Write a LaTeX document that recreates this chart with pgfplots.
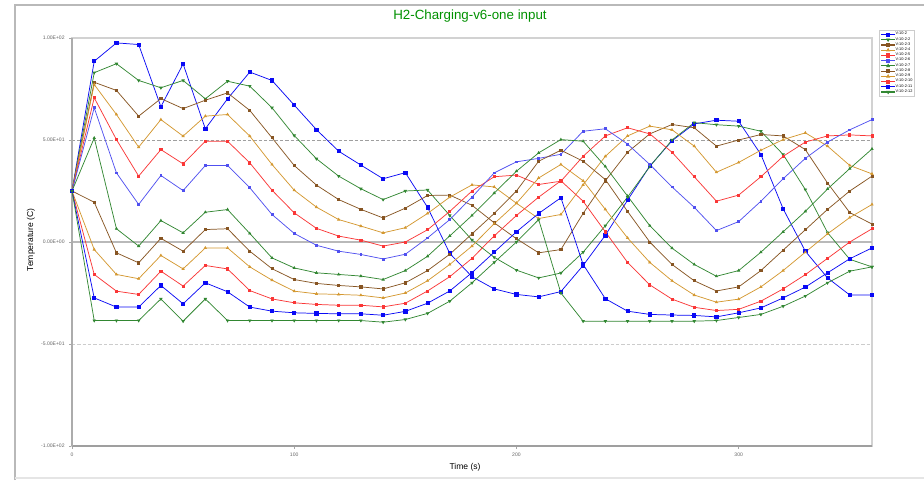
\documentclass[border=0pt]{standalone}
\usepackage{pgfplots}
\pgfplotsset{compat=1.18}
\usepackage{pgfplotstable}
\usepackage{fontspec}
\setmainfont{Liberation Sans}
\definecolor{cblue}{RGB}{10,10,245}
\definecolor{clblue}{RGB}{80,80,240}
\definecolor{cgreen}{RGB}{50,135,50}
\definecolor{cbrown}{RGB}{135,85,35}
\definecolor{cgold}{RGB}{212,152,48}
\definecolor{cred}{RGB}{250,55,55}
\definecolor{ctitle}{RGB}{0,145,0}

\pgfplotstableread{
t s1 s2 s3 s4 s5 s6 s7 s8 s9 s10 s11 s12
0 25 25 25 25 25 25 25 25 25 25 25 25
10 88.6 83 78.3 77.2 70.7 65.8 51 19.5 -3.7 -15.9 -27.4 -38.5
20 97.6 87.4 74.3 62.5 50.2 33.9 6.5 -5.3 -15.9 -24.1 -31.9 -38.5
30 96.8 79.2 61.7 46.5 32.3 18.4 -2 -10.2 -18 -25.7 -31.9 -38.5
40 66.3 75.6 70.3 60 45.3 32.6 10.5 1.8 -6.6 -14.3 -21.3 -27.9
50 87.3 79.2 65.4 51.9 38.3 25.2 4.5 -4.5 -13.2 -21.6 -30.3 -38.8
60 55.5 70.2 69.5 61.7 49.4 37.5 14.6 6.1 -2.9 -11.5 -20 -27.9
70 70.2 78.8 73.1 62.5 49.4 37.5 15.9 6.5 -2.9 -13.2 -24.4 -38.5
80 83.3 76.4 64.5 51.9 38.8 26.6 4.2 -4.5 -12.2 -23.8 -31.9 -38.5
90 79.2 65.8 51.1 38 25.4 13.5 -7.8 -13.1 -18.7 -27.9 -33.9 -38.5
100 67.1 52.2 37.5 25.4 14.3 4.2 -12.7 -18.4 -24.1 -29.8 -34.7 -38.5
110 55.1 40.8 27.9 17.1 6.7 -1.6 -15.1 -20.3 -25.4 -30.6 -35 -38.5
120 44.5 32.3 20.8 11 2.9 -4.5 -15.9 -21.3 -25.7 -31 -35.2 -38.5
130 37.7 26.1 16 7.8 0.9 -6.1 -16.7 -22 -26.1 -31 -35.2 -38.5
140 31 20.8 11.8 4.5 -2 -8.3 -18.4 -23 -27.4 -31.8 -35.9 -39.3
150 34 25 16.6 7 0 -6 -14 -20 -25 -30 -34 -38
160 17 25.5 22.8 14 6 2 -7 -14 -19 -24 -30 -35
170 -5.6 13 23 22 15 11 3 -6 -11 -17 -24 -29
180 -17 1 18 28 25 22 13 4 -2 -8 -15 -20
190 -23 -7.5 9.4 27 32 33.9 24 14 9 3 -5 -10
200 -25.7 -13.8 1.6 19 32.8 39.3 34.7 25 19 13 5 0
210 -26.9 -17.6 -5.3 11.5 28.2 41 43.7 39.6 31.4 22 14 11
220 -24.3 -15.2 -3.7 13.5 29.8 43 50.2 45 38 30 21.7 -25
230 -11.5 -5 14 28 42 54.3 49.4 39.6 30 20 -11 -38.8
240 3.3 8 30 42 52 55.5 37 30.6 16 5 -27.8 -38.8
250 20.5 22 44 52 56 48 22.5 15 2 -10 -33.9 -38.8
260 37.2 37 53 56.8 53 38 8 0 -10 -21 -35.5 -38.8
270 49.6 50 57.6 55 44 27 -3 -11 -19 -28 -35.8 -38.8
280 57.9 58.5 56 47 32 17 -11 -19 -26 -32 -36 -38.8
290 59.7 57.5 47 34.2 20 5.6 -16.8 -24 -29.5 -33.6 -36.7 -38.5
300 59.2 56.8 50 39 23 10 -14 -22 -28 -33 -34.7 -37
310 42.9 54.3 52.7 45 32 20 -5 -14 -22 -29 -32.3 -35.5
320 16.3 42.9 52 50.2 42 31 5 -4 -14 -23 -27.4 -31.5
330 -4.5 25.7 45.3 53.5 49 41 15 6 -5 -16 -22.1 -26.5
340 -17.6 4.6 28.9 47 52 49 26 16 4 -8 -15.1 -20
350 -26 -8.5 14.4 37.5 52.5 55 36 25 12 0 -8.2 -14.3
360 -26 -12.2 8.8 33.4 52 60 45.6 32.3 18.4 6.5 -2.9 -12.2
}\data

\begin{document}
\begin{tikzpicture}[x=0.75pt,y=0.75pt]
\useasboundingbox (0,0) rectangle (924,480);
\fill[white] (0,0) rectangle (924,480);
\draw[gray!55, line width=1.5pt] (15,0) -- (15,475) -- (924,475);
\draw[gray!20, line width=0.8pt] (15,2) -- (924,2);
\node[text=ctitle, font=\fontsize{10}{12}\selectfont] at (470,464) {H2-Charging-v6-one input};
\node[font=\fontsize{6.4}{7.5}\selectfont] at (465,13) {Time (s)};
\node[font=\fontsize{6.4}{7.5}\selectfont, rotate=90] at (31,240) {Temperature (C)};
\begin{axis}[
  at={(54pt,25.5pt)}, anchor=south west, scale only axis,
  width=600pt, height=306pt,
  xmin=0, xmax=360, ymin=-100, ymax=100,
  xtick={0,100,200,300},
  ytick={-100,-50,0,50,100},
  yticklabels={-1.00E+02,-5.00E+01,0.00E+00,5.00E+01,1.00E+02},
  /pgf/number format/assume math mode=true,
  tick label style={font=\fontsize{3.8}{4.5}\selectfont, text=gray!80!black},
  tick align=outside, tick style={gray!70, line width=0.5pt},
  major tick length=2pt,
  xtick pos=bottom, ytick pos=left,
  axis line style={gray!35, line width=0.8pt},
  clip=false,
  legend style={at={(1.00875,1.0196)}, anchor=north west, font=\fontsize{2.9}{3.2}\selectfont,
    draw=gray!40, inner sep=1.2pt, row sep=0pt, nodes={inner sep=0.2pt}, cells={anchor=west}},
  legend image code/.code={\draw[#1, line width=0.9pt] (0pt,0pt) -- (10pt,0pt); \draw[#1, only marks, mark size=1.2pt] plot coordinates {(5pt,0pt)};},
  every axis plot/.append style={line width=0.55pt},
]
\draw[gray!75, dash pattern=on 2.5pt off 1.5pt, line width=0.55pt] (axis cs:0,50) -- (axis cs:360,50);
\draw[gray!55, line width=0.9pt] (axis cs:0,0) -- (axis cs:360,0);
\draw[gray!40, dash pattern=on 2.5pt off 1.5pt, line width=0.5pt] (axis cs:0,-50) -- (axis cs:360,-50);
\draw[gray!75, line width=0.8pt] (axis cs:0,-100) -- (axis cs:360,-100);
\draw[gray!65, line width=0.8pt] (axis cs:0,-100) -- (axis cs:0,100);
\addplot[cblue, mark=square*, mark size=1.2pt] table[x=t,y=s1]{\data};
\addplot[cgreen, mark=triangle*, mark options={rotate=180}, mark size=1.0pt] table[x=t,y=s2]{\data};
\addplot[cbrown, mark=square*, mark size=0.8pt] table[x=t,y=s3]{\data};
\addplot[cgold, mark=triangle*, mark size=0.9pt] table[x=t,y=s4]{\data};
\addplot[cred, mark=square*, mark size=0.8pt] table[x=t,y=s5]{\data};
\addplot[clblue, mark=square*, mark size=0.7pt] table[x=t,y=s6]{\data};
\addplot[cgreen, mark=triangle*, mark size=0.9pt] table[x=t,y=s7]{\data};
\addplot[cbrown, mark=square*, mark size=0.8pt] table[x=t,y=s8]{\data};
\addplot[cgold, mark=triangle*, mark size=0.9pt] table[x=t,y=s9]{\data};
\addplot[cred, mark=square*, mark size=0.8pt] table[x=t,y=s10]{\data};
\addplot[cblue, mark=square*, mark size=1.2pt] table[x=t,y=s11]{\data};
\addplot[cgreen, mark=triangle*, mark options={rotate=180}, mark size=1.0pt] table[x=t,y=s12]{\data};
\legend{V:10-2,V:10-2-2,V:10-2-3,V:10-2-4,V:10-2-5,V:10-2-6,V:10-2-7,V:10-2-8,V:10-2-9,V:10-2-10,V:10-2-11,V:10-2-12}
\end{axis}
\end{tikzpicture}
\end{document}
